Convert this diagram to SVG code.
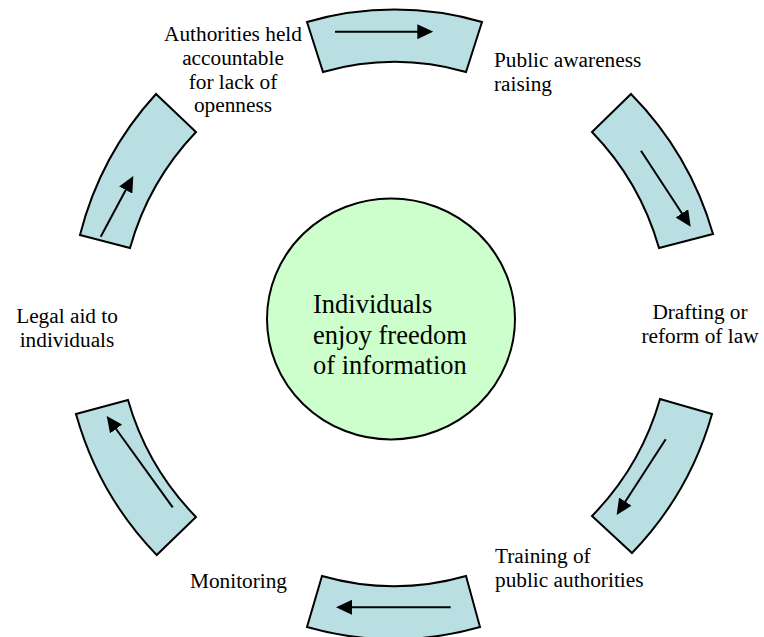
<svg xmlns="http://www.w3.org/2000/svg" width="764" height="637" viewBox="0 0 764 637">
<defs>
<style>
.seg{fill:#B9DFE3;stroke:#000;stroke-width:2;stroke-linejoin:miter}
.arr{stroke:#000;stroke-width:2;fill:none;marker-end:url(#ah)}
.lbl{font-family:"Liberation Serif","Times New Roman",serif;font-size:21.3px;fill:#000}
.ctr{font-family:"Liberation Serif","Times New Roman",serif;font-size:26.5px;fill:#000}
</style>
<marker id="ah" markerUnits="userSpaceOnUse" markerWidth="16" markerHeight="15" viewBox="0 0 16 15" refX="8" refY="7.5" orient="auto">
<path d="M0,0 L16,7.5 L0,15 Z" fill="#000"/>
</marker>
</defs>
<rect width="764" height="637" fill="#fff"/>
<g id="center">
<ellipse cx="391" cy="319" rx="124" ry="120.5" fill="#CCFFCC" stroke="#000" stroke-width="2"/>
<text class="ctr" x="313" y="313">Individuals</text>
<text class="ctr" x="313" y="343.5">enjoy freedom</text>
<text class="ctr" x="313" y="374">of information</text>
</g>
<g id="seg-top">
<path class="seg" d="M307,22 A314.5,314.5 0 0 1 482,22 L466,72 A262,262 0 0 0 323,72 Z"/>
</g>
<g id="seg-upper-right">
<path class="seg" d="M631,94 A330,330 0 0 1 713,234 L659,248 A275,275 0 0 0 592,132 Z"/>
</g>
<g id="seg-lower-right">
<path class="seg" d="M712,414 A330,330 0 0 1 632,553 L592,516 A275.5,275.5 0 0 0 660,399 Z"/>
</g>
<g id="seg-bottom">
<path class="seg" d="M480,627 A315,315 0 0 1 307,627 L322,576 A262,262 0 0 0 466,576 Z"/>
</g>
<g id="seg-lower-left">
<path class="seg" d="M156.7,555 A331,331 0 0 1 76,414 L128,400 A277,277 0 0 0 196,517 Z"/>
</g>
<g id="seg-upper-left">
<path class="seg" d="M80,235 A329,329 0 0 1 156,94 L196,132 A275.5,275.5 0 0 0 130,248 Z"/>
</g>
<g id="connectors">
<line class="arr" x1="335" y1="31.7" x2="425.3" y2="31.7"/>
<line class="arr" x1="641" y1="150.7" x2="686.3" y2="220"/>
<line class="arr" x1="665.7" y1="439.3" x2="621" y2="508.3"/>
<line class="arr" x1="450.7" y1="607.3" x2="344" y2="607.3"/>
<line class="arr" x1="172.7" y1="507.3" x2="111.4" y2="422.5"/>
<line class="arr" x1="100.7" y1="236.7" x2="129.5" y2="183"/>
</g>
<g id="label-authorities">
<text class="lbl" x="233" y="41" text-anchor="middle">Authorities held</text>
<text class="lbl" x="233" y="65" text-anchor="middle">accountable</text>
<text class="lbl" x="233" y="89" text-anchor="middle">for lack of</text>
<text class="lbl" x="233" y="112" text-anchor="middle">openness</text>
</g>
<g id="label-public">
<text class="lbl" x="494" y="67">Public awareness</text>
<text class="lbl" x="494" y="91">raising</text>
</g>
<g id="label-drafting">
<text class="lbl" x="700" y="319" text-anchor="middle">Drafting or</text>
<text class="lbl" x="700" y="343" text-anchor="middle">reform of law</text>
</g>
<g id="label-training">
<text class="lbl" x="495" y="563">Training of</text>
<text class="lbl" x="495" y="587">public authorities</text>
</g>
<g id="label-monitoring">
<text class="lbl" x="190" y="588">Monitoring</text>
</g>
<g id="label-legal">
<text class="lbl" x="67" y="323" text-anchor="middle">Legal aid to</text>
<text class="lbl" x="67" y="347" text-anchor="middle">individuals</text>
</g>
</svg>
